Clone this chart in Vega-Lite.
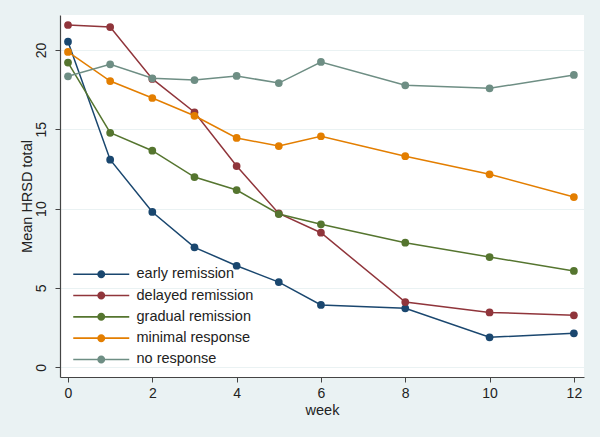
{
  "$schema": "https://vega.github.io/schema/vega-lite/v6.json",
  "width": 524,
  "height": 362,
  "autosize": {"type": "none"},
  "padding": {"left": 60, "top": 15, "right": 16, "bottom": 60},
  "background": "#eaf2f3",
  "config": {
    "view": {"fill": "white", "stroke": null},
    "font": "Liberation Sans",
    "axis": {"labelFont": "Liberation Sans", "titleFont": "Liberation Sans", "labelFontSize": 14, "titleFontSize": 14.5, "titleFontWeight": "normal", "labelColor": "#222", "titleColor": "#222", "domainColor": "#444", "tickColor": "#444", "domainWidth": 1.2, "tickSize": 5}
  },
  "data": {
    "values": [
      {"week": 0, "group": "early remission", "hrsd": 20.52},
      {"week": 1, "group": "early remission", "hrsd": 13.08},
      {"week": 2, "group": "early remission", "hrsd": 9.79},
      {"week": 3, "group": "early remission", "hrsd": 7.56},
      {"week": 4, "group": "early remission", "hrsd": 6.4},
      {"week": 5, "group": "early remission", "hrsd": 5.37},
      {"week": 6, "group": "early remission", "hrsd": 3.93},
      {"week": 8, "group": "early remission", "hrsd": 3.72},
      {"week": 10, "group": "early remission", "hrsd": 1.89},
      {"week": 12, "group": "early remission", "hrsd": 2.14},
      {"week": 0, "group": "delayed remission", "hrsd": 21.57},
      {"week": 1, "group": "delayed remission", "hrsd": 21.44},
      {"week": 2, "group": "delayed remission", "hrsd": 18.17},
      {"week": 3, "group": "delayed remission", "hrsd": 16.07},
      {"week": 4, "group": "delayed remission", "hrsd": 12.68},
      {"week": 5, "group": "delayed remission", "hrsd": 9.7},
      {"week": 6, "group": "delayed remission", "hrsd": 8.48},
      {"week": 8, "group": "delayed remission", "hrsd": 4.11},
      {"week": 10, "group": "delayed remission", "hrsd": 3.46},
      {"week": 12, "group": "delayed remission", "hrsd": 3.28},
      {"week": 0, "group": "gradual remission", "hrsd": 19.2},
      {"week": 1, "group": "gradual remission", "hrsd": 14.78},
      {"week": 2, "group": "gradual remission", "hrsd": 13.65},
      {"week": 3, "group": "gradual remission", "hrsd": 11.99},
      {"week": 4, "group": "gradual remission", "hrsd": 11.17},
      {"week": 5, "group": "gradual remission", "hrsd": 9.66},
      {"week": 6, "group": "gradual remission", "hrsd": 9.01},
      {"week": 8, "group": "gradual remission", "hrsd": 7.85},
      {"week": 10, "group": "gradual remission", "hrsd": 6.95},
      {"week": 12, "group": "gradual remission", "hrsd": 6.07},
      {"week": 0, "group": "minimal response", "hrsd": 19.87},
      {"week": 1, "group": "minimal response", "hrsd": 18.04},
      {"week": 2, "group": "minimal response", "hrsd": 16.97},
      {"week": 3, "group": "minimal response", "hrsd": 15.85},
      {"week": 4, "group": "minimal response", "hrsd": 14.45},
      {"week": 5, "group": "minimal response", "hrsd": 13.94},
      {"week": 6, "group": "minimal response", "hrsd": 14.56},
      {"week": 8, "group": "minimal response", "hrsd": 13.3},
      {"week": 10, "group": "minimal response", "hrsd": 12.16},
      {"week": 12, "group": "minimal response", "hrsd": 10.73},
      {"week": 0, "group": "no response", "hrsd": 18.34},
      {"week": 1, "group": "no response", "hrsd": 19.09},
      {"week": 2, "group": "no response", "hrsd": 18.21},
      {"week": 3, "group": "no response", "hrsd": 18.1},
      {"week": 4, "group": "no response", "hrsd": 18.36},
      {"week": 5, "group": "no response", "hrsd": 17.91},
      {"week": 6, "group": "no response", "hrsd": 19.24},
      {"week": 8, "group": "no response", "hrsd": 17.77},
      {"week": 10, "group": "no response", "hrsd": 17.58},
      {"week": 12, "group": "no response", "hrsd": 18.42}
    ]
  },
  "encoding": {
    "x": {"field": "week", "type": "quantitative", "title": "week",
      "scale": {"domain": [-0.19, 12.24], "nice": false, "zero": false},
      "axis": {"values": [0, 2, 4, 6, 8, 10, 12], "grid": false, "labelPadding": 4, "titlePadding": 3}},
    "y": {"field": "hrsd", "type": "quantitative", "title": "Mean HRSD total",
      "scale": {"domain": [-0.61, 22.2], "nice": false, "zero": false},
      "axis": {"values": [0, 5, 10, 15, 20], "grid": true, "gridColor": "#eaf2f3", "gridWidth": 1.2, "labelAngle": -90, "labelAlign": "center", "labelBaseline": "bottom", "labelPadding": 7, "titlePadding": 0}},
    "color": {"field": "group", "type": "nominal",
      "scale": {"domain": ["early remission", "delayed remission", "gradual remission", "minimal response", "no response"],
        "range": ["#1a476f", "#90353b", "#55752f", "#e37e00", "#6e8e84"]},
      "legend": {"title": null, "orient": "none", "legendX": 34, "legendY": 252,
        "symbolType": "M-7,-0.2L7,-0.2L7,0.2L-7,0.2Z M1,0A1,1,0,1,1,-1,0A1,1,0,1,1,1,0Z",
        "symbolSize": 64, "symbolStrokeWidth": 0, "labelFont": "Liberation Sans", "labelFontSize": 14.5, "labelColor": "#222", "rowPadding": 6.3, "labelOffset": 28}}
  },
  "layer": [
    {"mark": {"type": "line", "strokeWidth": 1.5}},
    {"mark": {"type": "point", "filled": true, "size": 60, "opacity": 1}}
  ]
}
